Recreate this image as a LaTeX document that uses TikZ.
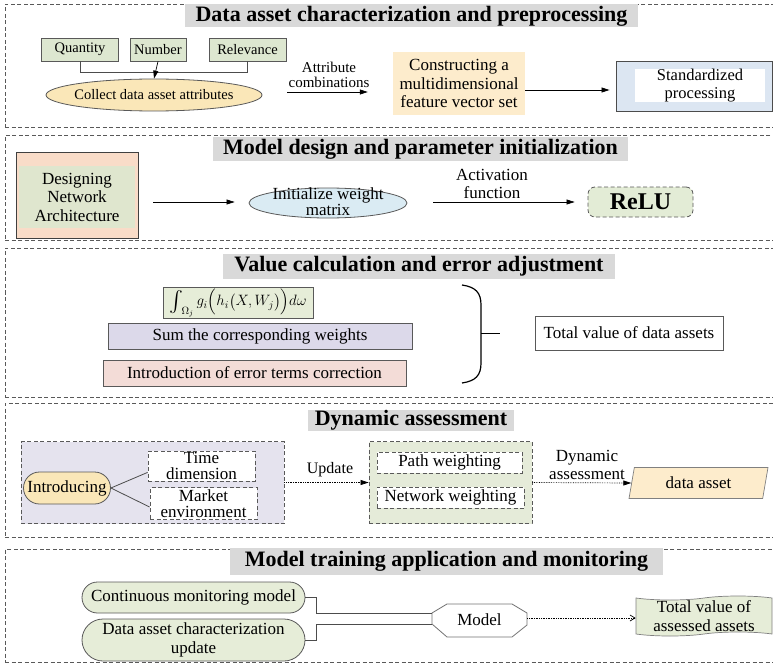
\RequirePackage{fix-cm}
\documentclass[tikz,border=0pt]{standalone}
\usepackage{amsmath}
\usepackage{fontspec}
\setmainfont{Liberation Serif}
\usetikzlibrary{shapes.geometric,shapes.misc,shapes.symbols,arrows.meta,calc}
\definecolor{qgreen}{RGB}{221,231,208}
\definecolor{eyellow}{RGB}{250,231,184}
\definecolor{cyellow}{RGB}{253,236,204}
\definecolor{sblue}{RGB}{220,230,242}
\definecolor{dpeach}{RGB}{249,220,200}
\definecolor{dgreen}{RGB}{223,230,206}
\definecolor{iblue}{RGB}{218,235,243}
\definecolor{rgreen}{RGB}{227,236,214}
\definecolor{igreen}{RGB}{230,237,216}
\definecolor{lav}{RGB}{220,217,234}
\definecolor{epink}{RGB}{243,220,215}
\definecolor{dlav}{RGB}{229,227,238}
\definecolor{dgreen2}{RGB}{229,235,217}
\definecolor{ttlgray}{RGB}{217,217,217}
\begin{document}
\begin{tikzpicture}[x=1pt,y=-1pt,
  panel/.style={draw=black!65, dash pattern=on 4pt off 2.5pt, line width=0.9pt, minimum width=772, inner sep=0},
  ttl/.style={fill=ttlgray, inner sep=0, font=\fontsize{22}{24}\selectfont\bfseries},
  bx/.style={draw=black!65, line width=0.8pt, inner sep=0, align=center},
  dbx/.style={draw=black!65, dash pattern=on 4pt off 2.5pt, line width=0.8pt, inner sep=0, align=center},
  fsm/.style={font=\fontsize{14.5}{16}\selectfont},
  fmd/.style={font=\fontsize{17}{18.5}\selectfont},
  arr/.style={-{Triangle[length=8pt,width=5pt]}, line width=0.7pt},
  darr/.style={densely dotted, -{Triangle[length=8pt,width=5pt]}, line width=0.7pt},
  conn/.style={line width=0.8pt, draw=black!70}
]
\useasboundingbox (0,0) rectangle (773,666);

% ---------- Panel 1 ----------
\node[panel, minimum height=123] (p1) at (391,65.5) {};
\node[ttl, minimum width=453, minimum height=23] (t1) at (411.5,16) {Data asset characterization and preprocessing};
\node[bx, fill=qgreen, fsm, minimum width=77, minimum height=23] (q) at (80,49.5) {Quantity};
\node[bx, fill=qgreen, fsm, minimum width=56, minimum height=23] (n) at (158,49.5) {Number};
\node[bx, fill=qgreen, fsm, minimum width=77, minimum height=23] (r) at (247.5,49.5) {Relevance};
\node[ellipse, draw=black!65, line width=0.8pt, fill=eyellow, minimum width=216, minimum height=32, inner sep=0] (col) at (154,95) {};
\node[fsm] (colt) at (154,95) {Collect data asset attributes};
\draw[conn] (q.south) -- ++(0,11) -| (r.south);
\draw[arr] (n.south) -- (col.north);
\node[font=\fontsize{15}{15}\selectfont, align=center] (lab1) at (329,75) {Attribute\\combinations};
\node[fill=cyellow, fmd, align=center, minimum width=132, minimum height=63, inner sep=0] (cons) at (459,83.5) {Constructing a\\multidimensional\\feature vector set};
\coordinate (c1) at ([yshift=3pt]col.east);
\draw[arr, shorten <=25pt, shorten >=25pt] (c1) -- (c1 -| cons.west);
\node[draw=black!70, line width=0.9pt, fill=sblue, minimum width=156, minimum height=50, inner sep=0] (std) at (694,86) {};
\node[fill=white, font=\fontsize{16.5}{18}\selectfont, align=center, minimum width=130, minimum height=31, inner sep=0] (stdt) at (700,85.5) {Standardized\\processing};
\coordinate (c2) at ([yshift=-6.5pt]cons.east);
\draw[arr, shorten >=6pt] (c2) -- (c2 -| std.west);

% ---------- Panel 2 ----------
\node[panel, minimum height=105] (p2) at (391,188) {};
\node[ttl, minimum width=415, minimum height=24] (t2) at (420.5,149) {Model design and parameter initialization};
\node[draw=black!75, line width=0.9pt, fill=dpeach, minimum width=122, minimum height=86, inner sep=0] (des) at (77,195) {};
\node[fill=dgreen, fmd, align=center, minimum width=116, minimum height=62, inner sep=0] (dest) at (77,197) {Designing\\Network\\Architecture};
\node[ellipse, draw=black!65, line width=0.8pt, fill=iblue, minimum width=158, minimum height=30, inner sep=0] (init) at (328,203) {};
\node[font=\fontsize{17}{16}\selectfont, align=center] (initt) at (328,202) {Initialize weight\\matrix};
\coordinate (c3) at ([yshift=-7pt]des.east);
\draw[arr, shorten <=15pt, shorten >=14pt] (c3) -- (c3 -| init.west);
\node[dbx, rounded corners=7pt, fill=rgreen, minimum width=105, minimum height=30, font=\fontsize{24}{24}\selectfont\bfseries] (relu) at (640.5,202) {ReLU};
\draw[arr, shorten <=26pt, shorten >=13pt] (init.east |- relu.west) -- (relu.west);
\node[fmd, align=center] (lab2) at (492,184) {Activation\\function};

% ---------- Panel 3 ----------
\node[panel, minimum height=149] (p3) at (391,322.5) {};
\node[ttl, minimum width=392, minimum height=25] (t3) at (419,266.5) {Value calculation and error adjustment};
\node[bx, fill=igreen, minimum width=150, minimum height=31, inner xsep=2pt, inner ysep=0pt, font=\fontsize{15}{16}\selectfont] (int) at (238,303) {$\mathop{\vcenter{\hbox{\scalebox{1.45}{$\int$}}}}\nolimits_{\!\Omega_j} g_i\Bigl(h_i\bigl(X,W_j\bigr)\Bigr)d\omega$};
\node[bx, fill=lav, fmd, minimum width=304, minimum height=26] (sum) at (260,336) {Sum the corresponding weights};
\node[bx, fill=epink, fmd, minimum width=303, minimum height=26] (err) at (254.5,373) {Introduction of error terms correction};
\coordinate (brt) at (462,285);
\coordinate (brb) at (462,383);
\coordinate (brm) at (500,333);
\draw[line width=1.2pt] (brt) .. controls (476,287) and (481,293) .. (481,305) -- (481,363) .. controls (481,375) and (476,381) .. (brb);
\draw[line width=1pt] (481,333) -- (brm);
\node[bx, fill=white, fmd, minimum width=188, minimum height=34] (tot) at (629,333) {Total value of data assets};

% ---------- Panel 4 ----------
\node[panel, minimum height=134] (p4) at (391,470) {};
\node[ttl, minimum width=206, minimum height=19] (t4) at (411,420.5) {Dynamic assessment};
\node[dbx, fill=dlav, minimum width=263, minimum height=82] (lg) at (152.5,482.5) {};
\node[rounded rectangle, draw=black!65, line width=0.8pt, fill=eyellow, fmd, minimum width=87, minimum height=32, inner sep=0] (intro) at (67,488) {Introducing};
\node[dbx, fill=white, minimum width=107, minimum height=30, font=\fontsize{17}{16}\selectfont] (time) at (201.5,466) {Time\\dimension};
\node[dbx, fill=white, minimum width=107, minimum height=32, font=\fontsize{17}{16}\selectfont] (mkt) at (203.5,503.5) {Market\\environment};
\draw[conn] (intro.east) -- ([yshift=9pt]time.south west);
\draw[conn] (intro.east) -- ([yshift=-3.5pt]mkt.west);
\node[dbx, fill=dgreen2, minimum width=163, minimum height=82] (rg) at (450.5,482.5) {};
\node[dbx, fill=white, fmd, minimum width=145, minimum height=21] (pw) at (449.5,462.5) {Path weighting};
\node[dbx, fill=white, fmd, minimum width=147, minimum height=21] (nw) at (450.5,497.5) {Network weighting};
\draw[darr] (lg.east) -- (rg.west);
\node[font=\fontsize{16}{16}\selectfont] (lab3) at (330,470) {Update};
\node[trapezium, trapezium left angle=66, trapezium right angle=114, trapezium stretches body, draw=black!50, line width=0.7pt, fill=cyellow, fmd, minimum width=139, minimum height=31, inner sep=0] (da) at (698.5,483) {data asset};
\draw[darr] (rg.east) -- (da.west);
\node[fmd, align=center] (lab4) at (587,465) {Dynamic\\assessment};

% ---------- Panel 5 ----------
\node[panel, minimum height=113] (p5) at (391,605.5) {};
\node[ttl, minimum width=433, minimum height=27] (t5) at (446.5,561.5) {Model training application and monitoring};
\node[rounded rectangle, draw=black!65, line width=0.8pt, fill=igreen, fmd, minimum width=223, minimum height=31, inner sep=0] (cm) at (193.5,597.5) {Continuous monitoring model};
\node[rounded rectangle, draw=black!65, line width=0.8pt, fill=igreen, fmd, align=center, minimum width=223, minimum height=42, inner sep=0] (du) at (193.5,640) {Data asset characterization\\update};
\node[fmd, minimum width=95, minimum height=33, inner sep=0] (model) at (479.5,620.5) {};
\draw[draw=black!55, line width=0.8pt, fill=white] (432,613) -- (447,604) -- (512,604) -- (527,613) -- (527,625) -- (512,637) -- (447,637) -- (432,624) -- cycle;
\node[fmd] (modelt) at (479.5,620) {Model};
\draw[conn] (cm.east) -- ++(11,0) |- ([yshift=7.5pt]model.west);
\draw[conn] (du.east) -- ++(11,0) |- ([yshift=-3.5pt]model.west);
\node[tape, tape bend top=in and out, tape bend bottom=in and out, tape bend height=4pt, draw=black!50, line width=0.7pt, fill=igreen, fmd, align=center, minimum width=136, minimum height=40, inner sep=0] (tv) at (704,616) {Total value of\\assessed assets};
\draw[densely dotted, line width=0.7pt, -{Straight Barb[length=5pt,width=6pt]}] ([yshift=2.5pt]model.east) -- ([yshift=2.5pt]model.east -| tv.west);
\end{tikzpicture}
\end{document}
